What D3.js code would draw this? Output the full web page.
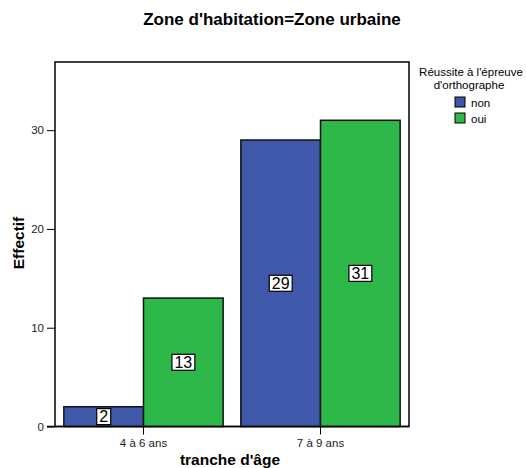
<!DOCTYPE html>
<html>
<head>
<meta charset="utf-8">
<script src="https://cdn.jsdelivr.net/npm/d3@7"></script>
<style>
  body { margin: 0; background: #fff; }
  svg text { font-family: Arial, "Liberation Sans", sans-serif; fill: #000; }
  .title { font-size: 17px; font-weight: bold; }
  .axis-label { font-size: 15.5px; font-weight: bold; }
  g.tick text { font-size: 11.5px; fill: #222; font-family: Arial, "Liberation Sans", sans-serif; }
  .legend text { font-size: 11.5px; }
  .val { font-size: 16px; }
</style>
</head>
<body>
<div id="chart"></div>
<script>
const categories = ['4 à 6 ans', '7 à 9 ans'];
const groups = ['non', 'oui'];
const nonValues = [2, 29];
const ouiValues = [13, 31];
const yTickValues = [0, 10, 20, 30];

const colors = { non: '#3f58a9', oui: '#2eb84a' };

const width = 526, height = 468;
const margin = { top: 62, right: 117, bottom: 41.5, left: 55 };
const innerWidth = width - margin.left - margin.right;
const innerHeight = height - margin.top - margin.bottom;

const data = categories.map((c, i) => ({ cat: c, non: nonValues[i], oui: ouiValues[i] }));

const svg = d3.select('#chart').append('svg')
  .attr('width', width)
  .attr('height', height);

svg.append('text')
  .attr('class', 'title')
  .attr('x', 272)
  .attr('y', 25)
  .attr('text-anchor', 'middle')
  .text("Zone d'habitation=Zone urbaine");

const g = svg.append('g')
  .attr('transform', `translate(${margin.left},${margin.top})`);

const xScale = d3.scaleBand()
  .domain(categories)
  .range([0, innerWidth])
  .paddingInner(0.1)
  .paddingOuter(0.05);

const xSub = d3.scaleBand()
  .domain(groups)
  .range([0, xScale.bandwidth()]);

const yScale = d3.scaleLinear()
  .domain([0, 36.9])
  .range([innerHeight, 0]);

// frame
g.append('rect')
  .attr('width', innerWidth)
  .attr('height', innerHeight)
  .attr('fill', 'none')
  .attr('stroke', '#000')
  .attr('stroke-width', 1.5);

// bars
const catG = g.selectAll('.cat').data(data).enter().append('g')
  .attr('class', 'cat')
  .attr('transform', d => `translate(${xScale(d.cat)},0)`);

const bars = catG.selectAll('.bar')
  .data(d => groups.map(k => ({ key: k, value: d[k] })))
  .enter().append('g');

bars.append('rect')
  .attr('x', d => xSub(d.key))
  .attr('y', d => yScale(d.value))
  .attr('width', xSub.bandwidth())
  .attr('height', d => innerHeight - yScale(d.value))
  .attr('fill', d => colors[d.key])
  .attr('stroke', '#111')
  .attr('stroke-width', 1.5);

// value labels
bars.each(function (d) {
  const b = d3.select(this);
  const cx = xSub(d.key) + xSub.bandwidth() / 2;
  const cy = (yScale(d.value) + innerHeight) / 2;
  const t = b.append('text')
    .attr('class', 'val')
    .attr('x', cx)
    .attr('y', cy + 5.5)
    .attr('text-anchor', 'middle')
    .text(d.value);
  const bb = t.node().getBBox();
  b.insert('rect', 'text')
    .attr('x', bb.x - 2.5)
    .attr('y', cy - 8)
    .attr('width', bb.width + 5)
    .attr('height', 16)
    .attr('fill', '#fff')
    .attr('stroke', '#000')
    .attr('stroke-width', 1.2);
});

// axes
const yAxis = d3.axisLeft(yScale)
  .tickValues(yTickValues)
  .tickSize(8)
  .tickPadding(3)
  .tickFormat(d3.format('d'));

const yAxisG = g.append('g').call(yAxis);
yAxisG.select('.domain').remove();
yAxisG.selectAll('line').attr('stroke', '#000');

const xAxis = d3.axisBottom(xScale)
  .tickSize(8)
  .tickPadding(4);

const xAxisG = g.append('g')
  .attr('transform', `translate(0,${innerHeight})`)
  .call(xAxis);
xAxisG.select('.domain').remove();
xAxisG.selectAll('line').attr('stroke', '#000');

// baseline through zero
g.append('line')
  .attr('x1', -8).attr('x2', innerWidth)
  .attr('y1', innerHeight).attr('y2', innerHeight)
  .attr('stroke', '#000')
  .attr('stroke-width', 1.5);

g.append('text')
  .attr('class', 'axis-label')
  .attr('x', 230 - margin.left)
  .attr('y', innerHeight + 38)
  .attr('text-anchor', 'middle')
  .text("tranche d'âge");

g.append('text')
  .attr('class', 'axis-label')
  .attr('transform', 'rotate(-90)')
  .attr('x', -(243 - margin.top))
  .attr('y', -31)
  .attr('text-anchor', 'middle')
  .text('Effectif');

// legend
const legend = svg.append('g').attr('class', 'legend');
legend.append('text')
  .attr('x', 471).attr('y', 76)
  .attr('text-anchor', 'middle')
  .text("Réussite à l'épreuve");
legend.append('text')
  .attr('x', 469).attr('y', 89)
  .attr('text-anchor', 'middle')
  .text("d'orthographe");

const item = legend.selectAll('.item').data(groups).enter().append('g')
  .attr('transform', (d, i) => `translate(455,${97 + i * 16})`);
item.append('rect')
  .attr('width', 10).attr('height', 10)
  .attr('fill', d => colors[d])
  .attr('stroke', '#000')
  .attr('stroke-width', 1);
item.append('text')
  .attr('x', 16).attr('y', 9.5)
  .text(d => d);
</script>
</body>
</html>
